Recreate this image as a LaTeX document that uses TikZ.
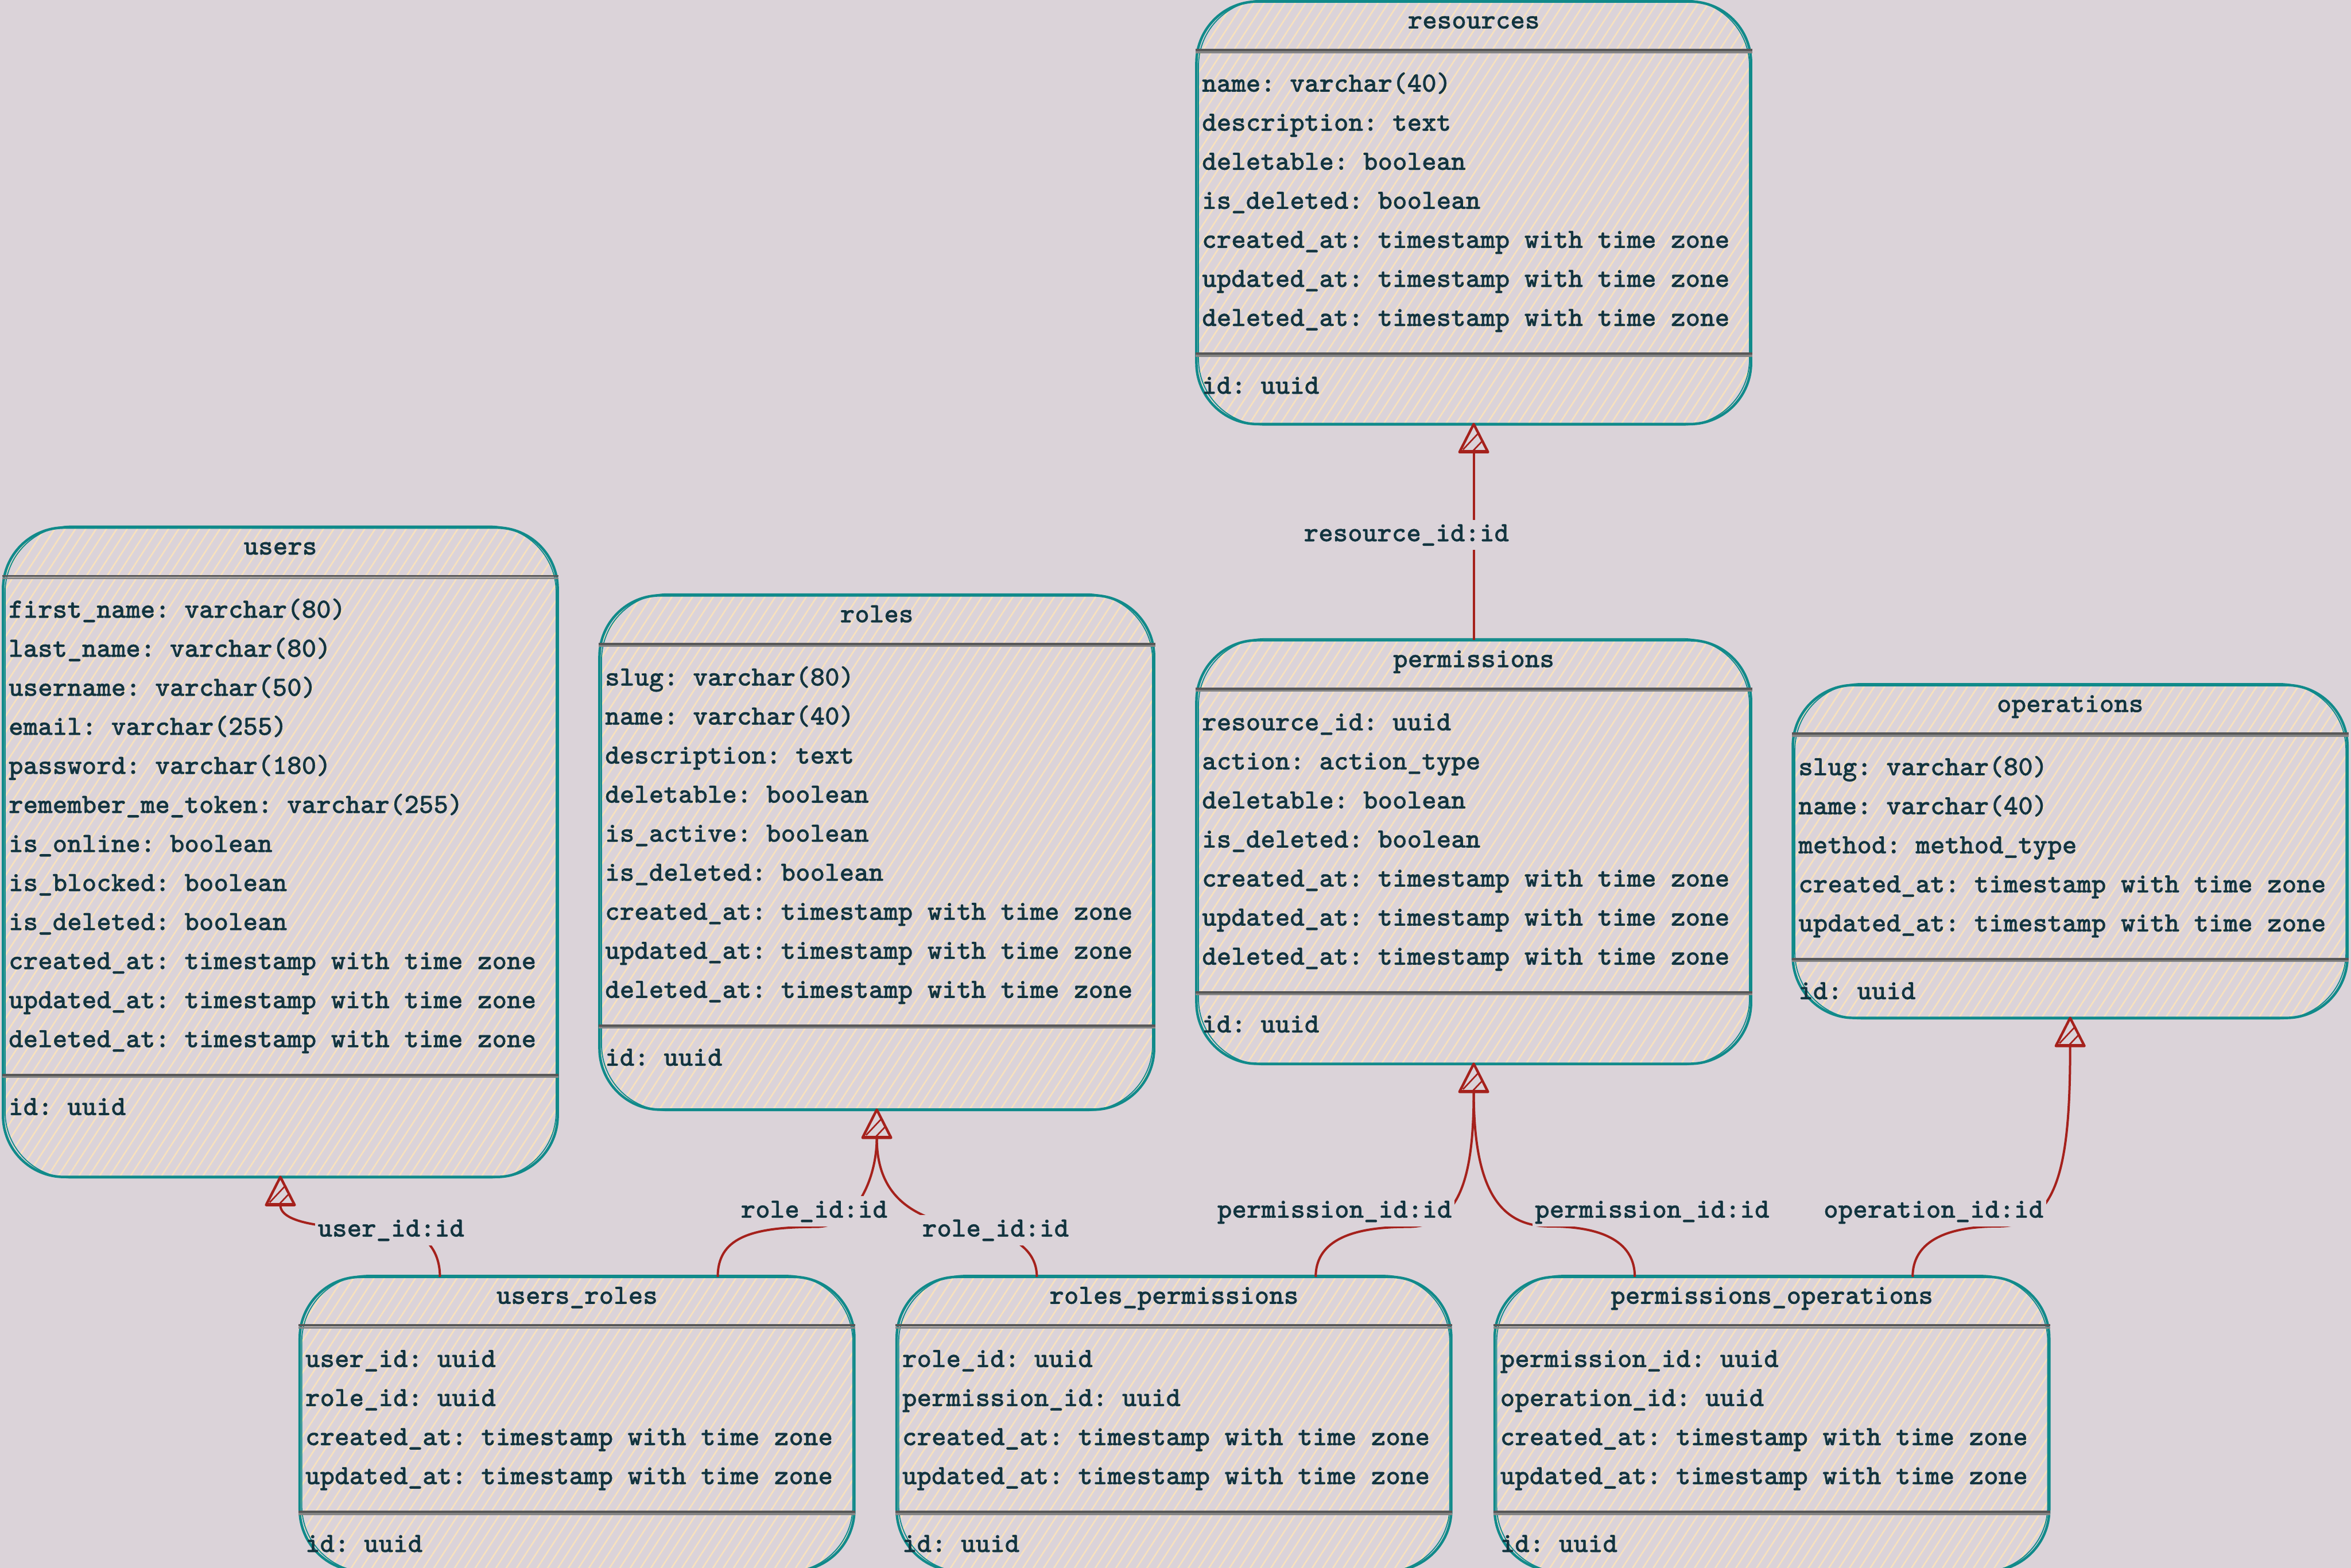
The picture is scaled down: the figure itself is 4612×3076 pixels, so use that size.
\documentclass[tikz,border=0pt]{standalone}
\usepackage{fontspec}
\usetikzlibrary{calc,patterns.meta}
\newfontfamily\erdff{lmmonolt10-bold.otf}[FakeBold=0.6]
\definecolor{bgc}{HTML}{DBD3D9}
\definecolor{hatch}{HTML}{F7E1BE}
\definecolor{tealc}{HTML}{108A8A}
\definecolor{textc}{HTML}{12343F}
\definecolor{sepdark}{HTML}{575757}
\definecolor{seplight}{HTML}{858585}
\definecolor{relc}{HTML}{A5211C}
\newcommand{\erdfont}{\erdff\frenchspacing\fontsize{10.95pt}{13pt}\selectfont}
\tikzset{
  tbl/.style={rectangle, rounded corners=24pt, draw=tealc, line width=1pt,
    pattern={Lines[angle=57,distance=3.4pt,line width=0.6pt]}, pattern color=hatch,
    minimum width=217.6pt, inner sep=0pt, outer sep=0pt},
  tblrough/.style={draw=tealc, line width=0.4pt, rounded corners=26pt},
  ttext/.style={font=\erdfont, text=textc, inner sep=0pt},
  lbl/.style={font=\erdfont, text=textc, fill=bgc, inner xsep=1pt, inner ysep=1.4pt,
    text height=7pt, text depth=2pt},
  rel/.style={draw=relc, line width=0.9pt},
  sepd/.style={draw=sepdark, line width=0.85pt},
  sepl/.style={draw=seplight, line width=0.7pt},
  fkarrow/.pic={
    \fill[bgc] (0,0) -- (28,55) -- (-28,55) -- cycle;
    \draw[relc, line width=1pt, line join=round] (0,0) -- (28,55) -- (-28,55) -- cycle;
    \draw[relc, line width=1.3pt] (-28,54) -- (28,54);
    \draw[relc, line width=0.6pt] (-21,50) -- (9,18) (-1,52) -- (17,33);
  }
}
\newcommand{\erdtable}[4]{%
  \draw[tblrough] ($(#1.north west)+(4,-3)$) rectangle ($(#1.south east)+(-3,2)$);
  \node[ttext, anchor=base] (#1-t) at ($(#1.north)+(0,53)$) {#2};
  \draw[sepd] ($(#1.north west)+(-2,95)$) -- ($(#1.north east)+(2,95)$);
  \draw[sepl] ($(#1.north west)+(-2,99.5)$) -- ($(#1.north east)+(2,99.5)$);
  \foreach \rowtxt [count=\i from 0] in {#3} {
    \node[ttext, anchor=base west] (#1-r\i) at ($(#1.north west)+(10,{177+76.6*\i})$) {\rowtxt};
  }
  \pgfmathsetmacro{\sepy}{177+76.6*(#4-1)+56}
  \draw[sepd] ($(#1.north west)+(-2,{\sepy-2})$) -- ($(#1.north east)+(2,{\sepy-2})$);
  \draw[sepl] ($(#1.north west)+(-2,{\sepy+2.5})$) -- ($(#1.north east)+(2,{\sepy+2.5})$);
  \node[ttext, anchor=base west] (#1-id) at ($(#1.north west)+(10,{\sepy+77})$) {id: uuid};
}
\begin{document}
\begin{tikzpicture}[x=0.2pt,y=-0.2pt]
\useasboundingbox (0,0) rectangle (4612,3076);
\fill[bgc] (0,0) rectangle (4612,3076);
\clip (0,0) rectangle (4612,3076);

% tables
\node[tbl, minimum height=254.8pt, anchor=north west] (users) at (6,1035) {};
\node[tbl, minimum height=201.8pt, anchor=north west] (roles) at (1176,1168) {};
\node[tbl, minimum height=165.8pt, anchor=north west] (resources) at (2347,3) {};
\node[tbl, minimum height=166.2pt, anchor=north west] (permissions) at (2347,1256) {};
\node[tbl, minimum height=130.6pt, anchor=north west] (operations) at (3517,1344) {};
\node[tbl, minimum height=115.4pt, anchor=north west] (users_roles) at (588,2505) {};
\node[tbl, minimum height=115.4pt, anchor=north west] (roles_permissions) at (1759,2505) {};
\node[tbl, minimum height=115.4pt, anchor=north west] (permissions_operations) at (2932,2505) {};

\erdtable{users}{users}{first\_name: varchar(80), last\_name: varchar(80), username: varchar(50), email: varchar(255), password: varchar(180), remember\_me\_token: varchar(255), is\_online: boolean, is\_blocked: boolean, is\_deleted: boolean, created\_at: timestamp with time zone, updated\_at: timestamp with time zone, deleted\_at: timestamp with time zone}{12}
\erdtable{roles}{roles}{slug: varchar(80), name: varchar(40), description: text, deletable: boolean, is\_active: boolean, is\_deleted: boolean, created\_at: timestamp with time zone, updated\_at: timestamp with time zone, deleted\_at: timestamp with time zone}{9}
\erdtable{resources}{resources}{name: varchar(40), description: text, deletable: boolean, is\_deleted: boolean, created\_at: timestamp with time zone, updated\_at: timestamp with time zone, deleted\_at: timestamp with time zone}{7}
\erdtable{permissions}{permissions}{resource\_id: uuid, action: action\_type, deletable: boolean, is\_deleted: boolean, created\_at: timestamp with time zone, updated\_at: timestamp with time zone, deleted\_at: timestamp with time zone}{7}
\erdtable{operations}{operations}{slug: varchar(80), name: varchar(40), method: method\_type, created\_at: timestamp with time zone, updated\_at: timestamp with time zone}{5}
\erdtable{users_roles}{users\_roles}{user\_id: uuid, role\_id: uuid, created\_at: timestamp with time zone, updated\_at: timestamp with time zone}{4}
\erdtable{roles_permissions}{roles\_permissions}{role\_id: uuid, permission\_id: uuid, created\_at: timestamp with time zone, updated\_at: timestamp with time zone}{4}
\erdtable{permissions_operations}{permissions\_operations}{permission\_id: uuid, operation\_id: uuid, created\_at: timestamp with time zone, updated\_at: timestamp with time zone}{4}

% connectors
\draw[rel] ($(users_roles.north west)+(275,0)$) .. controls (863,2450) and (830,2411) .. (767,2411)
  .. controls (640,2411) and (550,2400) .. ($(users.south)+(0,55)$);
\draw[rel] ($(users_roles.north west)+(820,0)$) .. controls (1408,2430) and (1470,2407) .. (1600,2407)
  .. controls (1680,2407) and (1720,2310) .. ($(roles.south)+(0,55)$);
\draw[rel] ($(roles_permissions.north west)+(275,0)$) .. controls (2034,2460) and (2000,2420) .. (1900,2408)
  .. controls (1770,2390) and (1720,2330) .. ($(roles.south)+(0,55)$);
\draw[rel] ($(roles_permissions.north west)+(822,0)$) .. controls (2581,2440) and (2640,2407) .. (2760,2407)
  .. controls (2860,2407) and (2891,2320) .. ($(permissions.south)+(0,55)$);
\draw[rel] ($(permissions_operations.north west)+(275,0)$) .. controls (3207,2440) and (3150,2406) .. (3040,2406)
  .. controls (2940,2406) and (2891,2330) .. ($(permissions.south)+(0,55)$);
\draw[rel] ($(permissions_operations.north west)+(820,0)$) .. controls (3752,2440) and (3810,2406) .. (3920,2406)
  .. controls (4040,2406) and (4061,2280) .. ($(operations.south)+(0,55)$);
\draw[rel] (permissions.north) -- ($(resources.south)+(0,55)$);

% arrowheads
\pic at (users.south) {fkarrow};
\pic at (roles.south) {fkarrow};
\pic at (permissions.south) {fkarrow};
\pic at (resources.south) {fkarrow};
\pic at (operations.south) {fkarrow};

% labels
\node[lbl, anchor=base] (l-res) at (2759,1062) {resource\_id:id};
\node[lbl, anchor=base] (l-ur1) at (767,2426) {user\_id:id};
\node[lbl, anchor=base] (l-ur2) at (1597,2389) {role\_id:id};
\node[lbl, anchor=base] (l-rp1) at (1953,2426) {role\_id:id};
\node[lbl, anchor=base] (l-rp2) at (2618,2389) {permission\_id:id};
\node[lbl, anchor=base] (l-po1) at (3241,2389) {permission\_id:id};
\node[lbl, anchor=base] (l-po2) at (3793,2389) {operation\_id:id};
\end{tikzpicture}
\end{document}
